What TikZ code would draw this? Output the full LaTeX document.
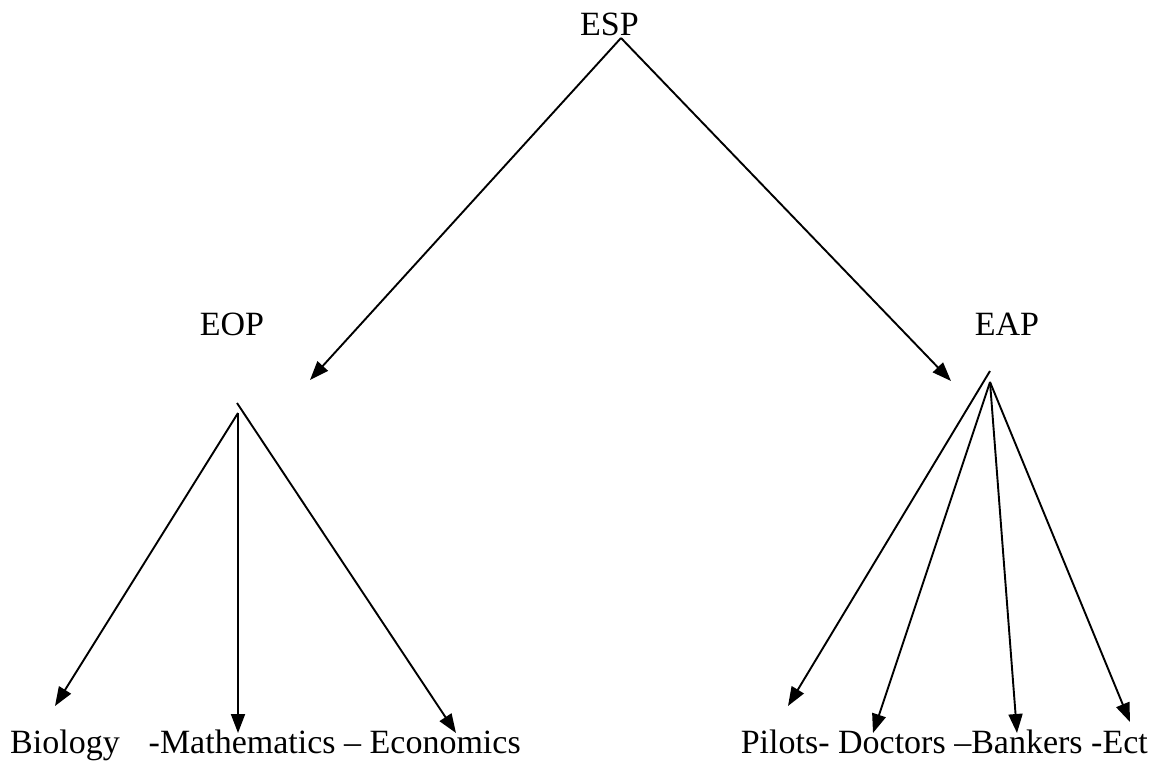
\documentclass[tikz,border=0pt]{standalone}
\usepackage{fontspec}
\setmainfont{Liberation Serif}
\usetikzlibrary{arrows.meta}
\begin{document}
\begin{tikzpicture}[x=1pt,y=-1pt,
  label/.style={inner sep=0pt,anchor=base,font=\fontsize{34}{40}\selectfont},
  link/.style={line width=1.9pt,-{Triangle[length=19pt,width=14pt]}}]
\useasboundingbox (0,0) rectangle (1168,762);

% headings
\node[label] (esp) at (609.5,35.5) {ESP};
\node[label] (eop) at (232,335) {EOP};
\node[label] (eap) at (1007,335) {EAP};

% leaf rows
\node[label,anchor=base west] (left) at (10,753)
  {Biology\hspace{0.85em}-Mathematics – Economics};
\node[label,anchor=base east] (right) at (1148,753)
  {Pilots- Doctors –Bankers -Ect};

% branch points and arrow tips
\coordinate (top) at (621,38);
\coordinate (eoptip) at (310,380);
\coordinate (eaptip) at (951,381);
\coordinate (lfA) at (237,403);
\coordinate (lfB) at (238,413);
\coordinate (rfA) at (990,371);
\coordinate (rfB) at (990,382);
\coordinate (bio) at (55,706);
\coordinate (math) at (238,733);
\coordinate (eco) at (456,733);
\coordinate (pil) at (788,706);
\coordinate (doc) at (873,733);
\coordinate (ban) at (1017,733);
\coordinate (ect) at (1130,722);

% top level
\draw[link] (top) -- (eoptip);
\draw[link] (top) -- (eaptip);

% EOP branches
\draw[link] (lfB) -- (bio);
\draw[link] (lfB) -- (math);
\draw[link] (lfA) -- (eco);

% EAP branches
\draw[link] (rfA) -- (pil);
\draw[link] (rfB) -- (doc);
\draw[link] (rfB) -- (ban);
\draw[link] (rfB) -- (ect);
\end{tikzpicture}
\end{document}
